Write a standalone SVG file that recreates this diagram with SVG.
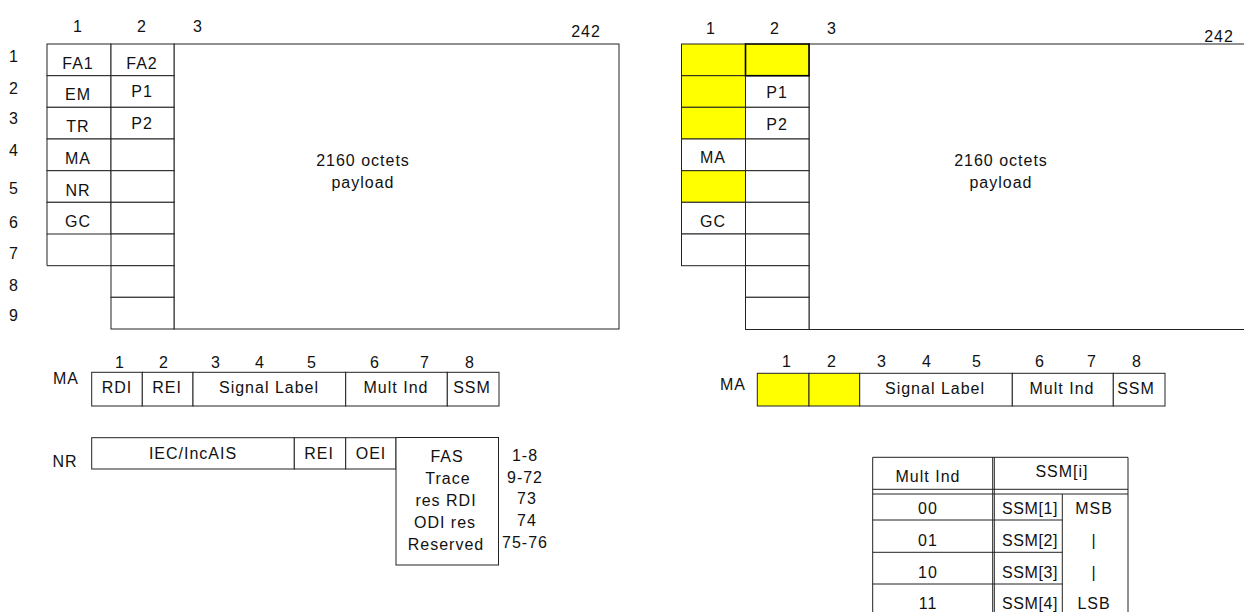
<svg xmlns="http://www.w3.org/2000/svg" width="1244" height="612" viewBox="0 0 1244 612">
<style>
text{font-family:"Liberation Sans",Arial,sans-serif;font-size:16px;fill:#111;letter-spacing:1px;text-anchor:middle}
.c{fill:#fff;stroke:#222;stroke-width:1}
.y{fill:#ffff00;stroke:#222;stroke-width:1}
.l{stroke:#222;stroke-width:1;fill:none}
</style>
<rect width="1244" height="612" fill="#fff"/>

<g id="left-frame">
<text x="78" y="32">1</text><text x="142" y="32">2</text><text x="198" y="32">3</text>
<text x="586" y="37">242</text>
<g id="row-numbers">
<text x="14" y="62">1</text><text x="14" y="94">2</text><text x="14" y="124">3</text>
<text x="14" y="156">4</text><text x="14" y="194">5</text><text x="14" y="228">6</text>
<text x="14" y="259">7</text><text x="14" y="291">8</text><text x="14" y="321">9</text>
</g>
<rect class="c" x="174" y="44" width="445" height="285"/>
<rect class="c" x="47" y="44" width="64" height="31.7"/>
<rect class="c" x="47" y="75.7" width="64" height="31.6"/>
<rect class="c" x="47" y="107.3" width="64" height="31.7"/>
<rect class="c" x="47" y="139" width="64" height="31.7"/>
<rect class="c" x="47" y="170.7" width="64" height="31.6"/>
<rect class="c" x="47" y="202.3" width="64" height="31.7"/>
<rect class="c" x="111" y="44" width="63" height="31.7"/>
<rect class="c" x="111" y="75.7" width="63" height="31.6"/>
<rect class="c" x="111" y="107.3" width="63" height="31.7"/>
<rect class="c" x="111" y="139" width="63" height="31.7"/>
<rect class="c" x="111" y="170.7" width="63" height="31.6"/>
<rect class="c" x="111" y="202.3" width="63" height="31.7"/>
<rect class="c" x="111" y="234" width="63" height="31.7"/>
<rect class="c" x="111" y="265.7" width="63" height="31.6"/>
<rect class="c" x="111" y="297.3" width="63" height="31.7"/>
<path class="l" d="M47 234V265.7H111"/>
<text x="78" y="69">FA1</text><text x="142" y="69">FA2</text>
<text x="78" y="100">EM</text><text x="142" y="97">P1</text>
<text x="78" y="132">TR</text><text x="142" y="129">P2</text>
<text x="78" y="164">MA</text>
<text x="78" y="196">NR</text>
<text x="78" y="227">GC</text>
<text x="363" y="166">2160 octets</text>
<text x="363" y="188">payload</text>
</g>

<g id="right-frame">
<text x="711" y="34">1</text><text x="775" y="34">2</text><text x="832" y="34">3</text>
<text x="1219" y="42">242</text>
<rect class="c" x="809" y="44" width="440" height="285.5"/>
<rect class="y" x="681.5" y="44" width="64" height="31.7"/>
<rect class="y" x="681.5" y="75.7" width="64" height="31.6"/>
<rect class="y" x="681.5" y="107.3" width="64" height="31.7"/>
<rect class="c" x="681.5" y="139" width="64" height="31.7"/>
<rect class="y" x="681.5" y="170.7" width="64" height="31.6"/>
<rect class="c" x="681.5" y="202.3" width="64" height="31.7"/>
<rect class="c" x="681.5" y="234" width="64" height="31.7"/>
<rect class="c" x="745.5" y="75.7" width="63.5" height="31.6"/>
<rect class="c" x="745.5" y="107.3" width="63.5" height="31.7"/>
<rect class="c" x="745.5" y="139" width="63.5" height="31.7"/>
<rect class="c" x="745.5" y="170.7" width="63.5" height="31.6"/>
<rect class="c" x="745.5" y="202.3" width="63.5" height="31.7"/>
<rect class="c" x="745.5" y="234" width="63.5" height="31.7"/>
<rect class="c" x="745.5" y="265.7" width="63.5" height="31.6"/>
<rect class="c" x="745.5" y="297.3" width="63.5" height="32.2"/>
<rect class="y" x="745.5" y="44" width="63.5" height="31.7" style="stroke-width:1.6;stroke:#000"/>
<text x="777" y="98">P1</text><text x="777" y="130">P2</text>
<text x="713" y="163">MA</text>
<text x="713" y="227">GC</text>
<text x="1001" y="166">2160 octets</text>
<text x="1001" y="188">payload</text>
</g>

<g id="ma-left">
<text x="120" y="368">1</text><text x="164" y="368">2</text><text x="216" y="368">3</text><text x="260" y="368">4</text><text x="312" y="368">5</text><text x="375" y="368">6</text><text x="425" y="368">7</text><text x="470" y="368">8</text>
<text x="66" y="384">MA</text>
<rect class="c" x="91.7" y="372.3" width="50.6" height="33.7"/>
<rect class="c" x="142.3" y="372.3" width="50.7" height="33.7"/>
<rect class="c" x="193" y="372.3" width="152.7" height="33.7"/>
<rect class="c" x="345.7" y="372.3" width="101.6" height="33.7"/>
<rect class="c" x="447.3" y="372.3" width="51.7" height="33.7"/>
<text x="117" y="393">RDI</text><text x="167" y="393">REI</text><text x="269" y="393">Signal Label</text><text x="396" y="393">Mult Ind</text><text x="472" y="393">SSM</text>
</g>

<g id="nr-row">
<text x="65" y="467">NR</text>
<rect class="c" x="91.7" y="437.7" width="202.6" height="31.3"/>
<rect class="c" x="294.3" y="437.7" width="51.4" height="31.3"/>
<rect class="c" x="345.7" y="437.7" width="50.3" height="31.3"/>
<rect class="c" x="396" y="437.5" width="102.5" height="127.5"/>
<text x="193" y="459">IEC/IncAIS</text>
<text x="319" y="459">REI</text>
<text x="371" y="459">OEI</text>
<text x="447" y="462">FAS</text>
<text x="448" y="484">Trace</text>
<text x="446" y="506">res  RDI</text>
<text x="445" y="528">ODI  res</text>
<text x="446" y="550">Reserved</text>
<text x="525" y="461">1-8</text>
<text x="525" y="483">9-72</text>
<text x="527" y="504">73</text>
<text x="527" y="526">74</text>
<text x="525" y="548">75-76</text>
</g>

<g id="ma-right">
<text x="787" y="367">1</text><text x="832" y="367">2</text><text x="882" y="367">3</text><text x="927" y="367">4</text><text x="977" y="367">5</text><text x="1040" y="367">6</text><text x="1092" y="367">7</text><text x="1137" y="367">8</text>
<text x="733" y="390">MA</text>
<rect class="y" x="757.3" y="373.3" width="51.7" height="32.7"/>
<rect class="y" x="809" y="373.3" width="50.7" height="32.7"/>
<rect class="c" x="859.7" y="373.3" width="152.6" height="32.7"/>
<rect class="c" x="1012.3" y="373.3" width="101" height="32.7"/>
<rect class="c" x="1113.3" y="373.3" width="51.7" height="32.7"/>
<text x="935" y="394">Signal Label</text><text x="1062" y="394">Mult Ind</text><text x="1136" y="394">SSM</text>
</g>

<g id="ssm-table">
<path class="l" d="M872.7 612V457.3H1128V612"/>
<path class="l" d="M992.7 457.3V612M994.3 457.3V612"/>
<path class="l" d="M872.7 489.3H1128M872.7 494H1128"/>
<path class="l" d="M872.7 520H1062.3M872.7 552.3H1062.3M872.7 584H1062.3M1062.3 494V612"/>
<text x="928" y="482">Mult Ind</text>
<text x="1062" y="477">SSM[i]</text>
<text x="928" y="514">00</text><text x="1030" y="514" style="letter-spacing:0.6px">SSM[1]</text><text x="1094" y="514">MSB</text>
<text x="928" y="546">01</text><text x="1030" y="546" style="letter-spacing:0.6px">SSM[2]</text><text x="1094" y="546">|</text>
<text x="928" y="578">10</text><text x="1030" y="578" style="letter-spacing:0.6px">SSM[3]</text><text x="1094" y="578">|</text>
<text x="928" y="609">11</text><text x="1030" y="609" style="letter-spacing:0.6px">SSM[4]</text><text x="1094" y="609">LSB</text>
</g>
</svg>
